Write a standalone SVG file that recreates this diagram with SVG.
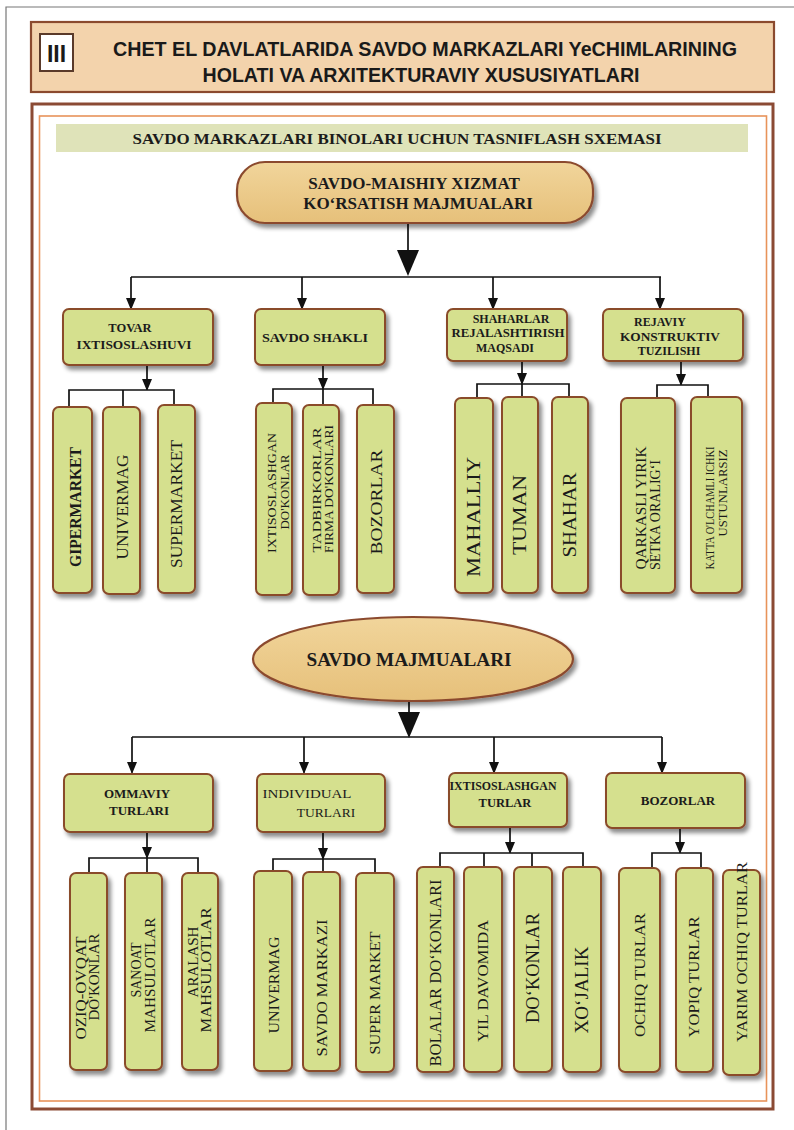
<svg xmlns="http://www.w3.org/2000/svg" width="794" height="1130" viewBox="0 0 794 1130">
<defs>
<style>
.box{fill:#d5e08e;stroke:#8a4b2a;stroke-width:2;filter:url(#sh)}
.t{font-family:"Liberation Serif","Times New Roman",serif;fill:#1b1b1b}
.b{font-weight:bold}
.c{stroke:#111;stroke-width:1.7;fill:none}
.v{text-anchor:middle}
.h{font-family:"Liberation Sans",Arial,sans-serif;font-weight:bold;fill:#1a1a1a}
</style>
<filter id="sh" x="-30%" y="-20%" width="160%" height="140%">
<feDropShadow dx="3" dy="4" stdDeviation="2.2" flood-color="#000" flood-opacity="0.45"/>
</filter>
<linearGradient id="tan" x1="0" y1="0" x2="0" y2="1">
<stop offset="0" stop-color="#f1d59b"/>
<stop offset="1" stop-color="#e6c07a"/>
</linearGradient>
<marker id="a" markerUnits="userSpaceOnUse" markerWidth="10" markerHeight="12" refX="11" refY="5" orient="auto">
<path d="M0,0 L12,5 L0,10 z" fill="#111"/>
</marker>
<marker id="big" markerUnits="userSpaceOnUse" markerWidth="26" markerHeight="22" refX="0" refY="11" orient="auto">
<path d="M0,0 L26,11 L0,22 z" fill="#111"/>
</marker>
</defs>
<rect width="794" height="1130" fill="#fff"/>
<path d="M6,1130 V7 H794" fill="none" stroke="#777" stroke-width="1.2"/>

<g id="header">
<rect x="31" y="22" width="743" height="70" fill="#f3d3ac" stroke="#8b4a2e" stroke-width="2.2"/>
<rect x="40" y="34" width="33" height="37" fill="#fff" stroke="#5a3a2a" stroke-width="2"/>
<text x="56.5" y="61.5" text-anchor="middle" class="h" style="font-size:23px">III</text>
<text x="425" y="56" text-anchor="middle" textLength="624" lengthAdjust="spacingAndGlyphs" class="h" style="font-size:20px">CHET EL DAVLATLARIDA SAVDO MARKAZLARI YeCHIMLARINING</text>
<text x="421" y="82" text-anchor="middle" textLength="437" lengthAdjust="spacingAndGlyphs" class="h" style="font-size:20px">HOLATI VA ARXITEKTURAVIY XUSUSIYATLARI</text>
</g>

<g id="frame">
<rect x="32" y="104" width="741" height="1005" fill="none" stroke="#8b4a34" stroke-width="3"/>
<rect x="39.5" y="116" width="727" height="985" fill="none" stroke="#e8935a" stroke-width="1.6"/>
<rect x="56" y="124" width="692" height="28" fill="#dfe3b9"/>
<text x="397" y="144" text-anchor="middle" textLength="529" lengthAdjust="spacingAndGlyphs" class="t b" style="font-size:15px" fill="#5a2f1a">SAVDO MARKAZLARI BINOLARI UCHUN TASNIFLASH SXEMASI</text>
</g>

<g id="connectors">
<path class="c" d="M408,224 V250" stroke-width="4" marker-end="url(#big)"/>
<path class="c" d="M131,277 H661" stroke-width="2"/>
<path class="c" d="M131,277 V309" marker-end="url(#a)"/>
<path class="c" d="M302,277 V309" marker-end="url(#a)"/>
<path class="c" d="M493,277 V309" marker-end="url(#a)"/>
<path class="c" d="M660,277 V309" marker-end="url(#a)"/>

<path class="c" d="M147,365 V390" marker-end="url(#a)"/>
<path class="c" d="M69,407 V390 H174 V405 M123,390 V407"/>
<path class="c" d="M323,365 V389" marker-end="url(#a)"/>
<path class="c" d="M273,403 V389 H373 V405 M323,389 V405"/>
<path class="c" d="M522,361 V384" marker-end="url(#a)"/>
<path class="c" d="M477,398 V384 H569 V397 M522,384 V397"/>
<path class="c" d="M681,361 V385" marker-end="url(#a)"/>
<path class="c" d="M657,398 V385 H708 V397"/>

<path class="c" d="M409,701 V712" stroke-width="4" marker-end="url(#big)"/>
<path class="c" d="M132,737 H662" stroke-width="2"/>
<path class="c" d="M132,737 V773" marker-end="url(#a)"/>
<path class="c" d="M304,737 V773" marker-end="url(#a)"/>
<path class="c" d="M494,737 V773" marker-end="url(#a)"/>
<path class="c" d="M662,737 V773" marker-end="url(#a)"/>

<path class="c" d="M147,832 V858" marker-end="url(#a)"/>
<path class="c" d="M89,873 V858 H198 V873 M147,858 V873"/>
<path class="c" d="M323,832 V859" marker-end="url(#a)"/>
<path class="c" d="M273,871 V859 H375 V873 M323,859 V872"/>
<path class="c" d="M510,827 V853" marker-end="url(#a)"/>
<path class="c" d="M440,867 V853 H583 V867 M484,853 V867 M532,853 V867"/>
<path class="c" d="M680,828 V853" marker-end="url(#a)"/>
<path class="c" d="M652,868 V853 H701 V868"/>
</g>

<g id="n-top">
<rect x="237" y="162" width="356" height="61" rx="28" fill="url(#tan)" stroke="#8b4a2e" stroke-width="2.2" filter="url(#sh)"/>
<text x="414" y="189" text-anchor="middle" class="t b" style="font-size:17px" fill="#2a1d12">SAVDO-MAISHIY XIZMAT</text>
<text x="418" y="209" text-anchor="middle" class="t b" style="font-size:17px" fill="#2a1d12">KO‘RSATISH MAJMUALARI</text>
</g>

<g id="n-tovar">
<rect class="box" x="63" y="309" width="150" height="56" rx="6"/>
<text class="t b v" x="130" y="332" style="font-size:12.5px">TOVAR</text>
<text class="t b v" x="134" y="349" style="font-size:12.5px" textLength="115" lengthAdjust="spacingAndGlyphs">IXTISOSLASHUVI</text>
</g>
<g id="n-savdo-shakli">
<rect class="box" x="255" y="309" width="130" height="56" rx="6"/>
<text class="t b v" x="315" y="342" style="font-size:13px" textLength="106" lengthAdjust="spacingAndGlyphs">SAVDO SHAKLI</text>
</g>
<g id="n-shaharlar">
<rect class="box" x="447" y="309" width="120" height="52" rx="6"/>
<text class="t b v" x="511" y="323" style="font-size:12px">SHAHARLAR</text>
<text class="t b v" x="508" y="337" style="font-size:12px" textLength="113" lengthAdjust="spacingAndGlyphs">REJALASHTIRISH</text>
<text class="t b v" x="505" y="352" style="font-size:12px">MAQSADI</text>
</g>
<g id="n-rejaviy">
<rect class="box" x="603" y="309" width="140" height="52" rx="6"/>
<text class="t b v" x="660" y="326" style="font-size:12px">REJAVIY</text>
<text class="t b v" x="670" y="341" style="font-size:12px" textLength="100" lengthAdjust="spacingAndGlyphs">KONSTRUKTIV</text>
<text class="t b v" x="669" y="355" style="font-size:12px">TUZILISHI</text>
</g>

<g id="n-gipermarket">
<rect class="box" x="53" y="407" width="39" height="186" rx="6"/>
<text class="t b v" transform="translate(81,507) rotate(-90)" style="font-size:17px" textLength="120" lengthAdjust="spacingAndGlyphs">GIPERMARKET</text>
</g>
<g id="n-univermag1">
<rect class="box" x="103" y="407" width="37" height="187" rx="6"/>
<text class="t v" transform="translate(127.5,507) rotate(-90)" style="font-size:17px" textLength="105" lengthAdjust="spacingAndGlyphs">UNIVERMAG</text>
</g>
<g id="n-supermarket">
<rect class="box" x="158" y="405" width="37" height="188" rx="6"/>
<text class="t v" transform="translate(182,504) rotate(-90)" style="font-size:16px" textLength="128" lengthAdjust="spacingAndGlyphs">SUPERMARKET</text>
</g>
<g id="n-ixtisoslashgan1">
<rect class="box" x="256" y="403" width="36" height="192" rx="6"/>
<text class="t v" transform="translate(276,493) rotate(-90)" style="font-size:12px" textLength="120" lengthAdjust="spacingAndGlyphs">IXTISOSLASHGAN</text>
<text class="t v" transform="translate(289,492) rotate(-90)" style="font-size:12px" textLength="75" lengthAdjust="spacingAndGlyphs">DO'KONLAR</text>
</g>
<g id="n-tadbirkorlar">
<rect class="box" x="303" y="405" width="36" height="190" rx="6"/>
<text class="t v" transform="translate(321,490) rotate(-90)" style="font-size:12px" textLength="125" lengthAdjust="spacingAndGlyphs">TADBIRKORLAR</text>
<text class="t v" transform="translate(333,489) rotate(-90)" style="font-size:12px" textLength="128" lengthAdjust="spacingAndGlyphs">FIRMA DO'KONLARI</text>
</g>
<g id="n-bozorlar1">
<rect class="box" x="357" y="405" width="37" height="188" rx="6"/>
<text class="t v" transform="translate(381.5,502) rotate(-90)" style="font-size:17px" textLength="105" lengthAdjust="spacingAndGlyphs">BOZORLAR</text>
</g>
<g id="n-mahalliy">
<rect class="box" x="455" y="398" width="38" height="195" rx="6"/>
<text class="t v" transform="translate(480,517) rotate(-90)" style="font-size:18px" textLength="120" lengthAdjust="spacingAndGlyphs">MAHALLIY</text>
</g>
<g id="n-tuman">
<rect class="box" x="502" y="397" width="36" height="196" rx="6"/>
<text class="t v" transform="translate(526,515) rotate(-90)" style="font-size:18px" textLength="80" lengthAdjust="spacingAndGlyphs">TUMAN</text>
</g>
<g id="n-shahar">
<rect class="box" x="552" y="397" width="36" height="196" rx="6"/>
<text class="t v" transform="translate(576,515) rotate(-90)" style="font-size:18px" textLength="85" lengthAdjust="spacingAndGlyphs">SHAHAR</text>
</g>
<g id="n-qarkasli">
<rect class="box" x="621" y="398" width="54" height="195" rx="6"/>
<text class="t v" transform="translate(645.5,508) rotate(-90)" style="font-size:14px" textLength="123" lengthAdjust="spacingAndGlyphs">QARKASLI YIRIK</text>
<text class="t v" transform="translate(659.5,515) rotate(-90)" style="font-size:14px" textLength="110" lengthAdjust="spacingAndGlyphs">SETKA ORALIG‘I</text>
</g>
<g id="n-katta">
<rect class="box" x="691" y="397" width="51" height="196" rx="6"/>
<text class="t v" transform="translate(714,508) rotate(-90)" style="font-size:12px" textLength="123" lengthAdjust="spacingAndGlyphs">KATTA O'LCHAMLI ICHKI</text>
<text class="t v" transform="translate(727,493) rotate(-90)" style="font-size:12px" textLength="87" lengthAdjust="spacingAndGlyphs">USTUNLARSIZ</text>
</g>

<g id="n-savdo-majmualari">
<ellipse cx="413" cy="659" rx="160" ry="42" fill="url(#tan)" stroke="#8b4a2e" stroke-width="2.2" filter="url(#sh)"/>
<text class="t b v" x="409" y="666" style="font-size:19px" textLength="205" lengthAdjust="spacingAndGlyphs" fill="#2a1d12">SAVDO MAJMUALARI</text>
</g>

<g id="n-ommaviy">
<rect class="box" x="64" y="774" width="149" height="58" rx="6"/>
<text class="t b v" x="137" y="798" style="font-size:13px">OMMAVIY</text>
<text class="t b v" x="139" y="815" style="font-size:13px">TURLARI</text>
</g>
<g id="n-individual">
<rect class="box" x="257" y="774" width="128" height="58" rx="6"/>
<text class="t v" x="307" y="798" style="font-size:13.5px" textLength="89" lengthAdjust="spacingAndGlyphs">INDIVIDUAL</text>
<text class="t v" x="326" y="817" style="font-size:13.5px">TURLARI</text>
</g>
<g id="n-ixtisoslashgan2">
<rect class="box" x="449" y="773" width="118" height="54" rx="6"/>
<text class="t b v" x="503" y="790" style="font-size:12.5px" textLength="107" lengthAdjust="spacingAndGlyphs">IXTISOSLASHGAN</text>
<text class="t b v" x="505" y="807" style="font-size:12.5px">TURLAR</text>
</g>
<g id="n-bozorlar2">
<rect class="box" x="606" y="773" width="139" height="55" rx="6"/>
<text class="t b v" x="678" y="805" style="font-size:13px">BOZORLAR</text>
</g>

<g id="n-oziq">
<rect class="box" x="70" y="873" width="37" height="197" rx="6"/>
<text class="t v" transform="translate(85.5,988) rotate(-90)" style="font-size:14px" textLength="103" lengthAdjust="spacingAndGlyphs">OZIQ-OVQAT</text>
<text class="t v" transform="translate(98.5,977) rotate(-90)" style="font-size:14px" textLength="87" lengthAdjust="spacingAndGlyphs">DO'KONLAR</text>
</g>
<g id="n-sanoat">
<rect class="box" x="125" y="873" width="37" height="197" rx="6"/>
<text class="t v" transform="translate(140.5,970) rotate(-90)" style="font-size:14px">SANOAT</text>
<text class="t v" transform="translate(154.5,975) rotate(-90)" style="font-size:14px" textLength="115" lengthAdjust="spacingAndGlyphs">MAHSULOTLAR</text>
</g>
<g id="n-aralash">
<rect class="box" x="182" y="873" width="36" height="197" rx="6"/>
<text class="t v" transform="translate(198,962) rotate(-90)" style="font-size:15px">ARALASH</text>
<text class="t v" transform="translate(211,970) rotate(-90)" style="font-size:15px" textLength="125" lengthAdjust="spacingAndGlyphs">MAHSULOTLAR</text>
</g>
<g id="n-univermag2">
<rect class="box" x="254" y="871" width="38" height="200" rx="6"/>
<text class="t v" transform="translate(279,985) rotate(-90)" style="font-size:15px" textLength="97" lengthAdjust="spacingAndGlyphs">UNIVERMAG</text>
</g>
<g id="n-savdo-markazi">
<rect class="box" x="303" y="872" width="37" height="199" rx="6"/>
<text class="t v" transform="translate(327,988) rotate(-90)" style="font-size:15px" textLength="137" lengthAdjust="spacingAndGlyphs">SAVDO MARKAZI</text>
</g>
<g id="n-super-market">
<rect class="box" x="356" y="873" width="38" height="199" rx="6"/>
<text class="t v" transform="translate(380,993) rotate(-90)" style="font-size:15px" textLength="123" lengthAdjust="spacingAndGlyphs">SUPER MARKET</text>
</g>
<g id="n-bolalar">
<rect class="box" x="417" y="867" width="37" height="205" rx="6"/>
<text class="t v" transform="translate(441,973) rotate(-90)" style="font-size:16px" textLength="187" lengthAdjust="spacingAndGlyphs">BOLALAR DO‘KONLARI</text>
</g>
<g id="n-yil">
<rect class="box" x="464" y="867" width="38" height="205" rx="6"/>
<text class="t v" transform="translate(488,981) rotate(-90)" style="font-size:15px" textLength="122" lengthAdjust="spacingAndGlyphs">YIL DAVOMIDA</text>
</g>
<g id="n-dokonlar">
<rect class="box" x="514" y="867" width="38" height="205" rx="6"/>
<text class="t v" transform="translate(539,968) rotate(-90)" style="font-size:18px" textLength="110" lengthAdjust="spacingAndGlyphs">DO‘KONLAR</text>
</g>
<g id="n-xojalik">
<rect class="box" x="563" y="867" width="38" height="205" rx="6"/>
<text class="t v" transform="translate(588,990) rotate(-90)" style="font-size:18px" textLength="87" lengthAdjust="spacingAndGlyphs">XO‘JALIK</text>
</g>
<g id="n-ochiq">
<rect class="box" x="619" y="868" width="41" height="204" rx="6"/>
<text class="t v" transform="translate(644.5,975) rotate(-90)" style="font-size:14px" textLength="124" lengthAdjust="spacingAndGlyphs">OCHIQ TURLAR</text>
</g>
<g id="n-yopiq">
<rect class="box" x="676" y="868" width="37" height="204" rx="6"/>
<text class="t v" transform="translate(698.5,977) rotate(-90)" style="font-size:14px" textLength="121" lengthAdjust="spacingAndGlyphs">YOPIQ TURLAR</text>
</g>
<g id="n-yarim">
<rect class="box" x="723" y="870" width="37" height="205" rx="6"/>
<text class="t v" transform="translate(747,952) rotate(-90)" style="font-size:15px" textLength="180" lengthAdjust="spacingAndGlyphs">YARIM OCHIQ TURLAR</text>
</g>
</svg>
